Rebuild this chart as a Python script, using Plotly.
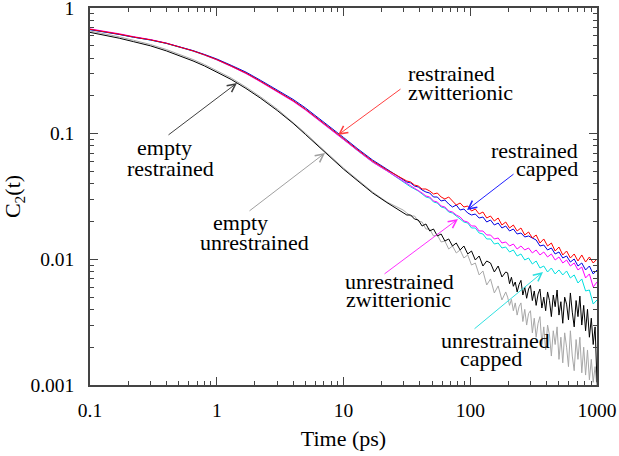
import plotly.graph_objects as go

# ---------------- data ----------------
time_ps = [0.1, 0.13, 0.17, 0.22, 0.3, 0.4, 0.5, 0.65, 0.8, 1, 1.3, 1.7, 2.2, 3, 4, 5, 6.5, 8, 10, 13, 17, 22,
           29.5, 31.6, 33.9, 36.3, 38.9, 41.7, 44.7, 47.9, 51.3, 55.0, 58.9, 63.1, 67.6, 72.4, 77.6, 83.2,
           89.1, 95.5, 102.3, 109.6, 117.5, 125.9, 134.9, 144.5, 154.9, 166.0, 177.8, 190.5, 204.2, 218.8,
           234.4, 251.2, 269.2, 288.4, 309.0, 331.1, 354.8, 380.2, 407.4, 436.5, 467.7, 501.2, 537.0, 575.4,
           616.6, 660.7, 707.9, 758.6, 812.8, 871.0, 933.3, 1000]

time_empty_ps = [0.1, 0.13, 0.17, 0.22, 0.3, 0.4, 0.5, 0.65, 0.8, 1, 1.3, 1.7, 2.2, 3, 4, 5, 6.5, 8, 10, 13, 17, 22,
                 29.5, 31.6, 33.9, 36.3, 38.9, 41.7, 44.7, 47.9, 51.3, 55.0, 58.9, 63.1, 67.6, 72.4, 77.6, 83.2,
                 89.1, 95.5, 102.3, 109.6, 117.5, 125.9, 134.9, 144.5, 154.9, 166.0, 177.8, 190.5,
                 197.2, 204.2, 211.3, 218.8, 226.5, 234.4, 242.7, 251.2, 260.0, 269.2, 278.6, 288.4, 298.5, 309.0,
                 319.9, 331.1, 342.8, 354.8, 367.3, 380.2, 393.6, 407.4, 421.7, 436.5, 451.9, 467.7, 484.2, 501.2,
                 518.8, 537.0, 555.9, 575.4, 595.7, 616.6, 638.3, 660.7, 683.9, 707.9, 732.8, 758.6, 785.2, 812.8,
                 841.4, 871.0, 901.6, 933.3, 966.1, 1000]

empty_unrestrained = [0.656, 0.624, 0.590, 0.554, 0.5125, 0.4676, 0.4305, 0.389, 0.355, 0.318, 0.2773, 0.235,
                      0.1975, 0.157, 0.1238, 0.1012, 0.0790, 0.0652, 0.0533, 0.0428, 0.0343, 0.0286,
                      0.02469, 0.02337, 0.02212, 0.02212, 0.02019, 0.01982, 0.01743, 0.01743, 0.01534, 0.01562,
                      0.01374, 0.01399, 0.01208, 0.01277, 0.01124, 0.01187, 0.01025, 0.01083, 0.00901, 0.00935,
                      0.00751, 0.00808, 0.00625, 0.00698, 0.0054, 0.00614, 0.00475, 0.0055,
                      0.0050, 0.0043, 0.0048, 0.0039, 0.0045, 0.0036, 0.0042, 0.0045, 0.0032, 0.0040, 0.0030, 0.0037,
                      0.0039, 0.0026, 0.0034, 0.0024, 0.0031, 0.0035, 0.0021, 0.0029, 0.0019, 0.0030, 0.0025, 0.0017,
                      0.0027, 0.0021, 0.0029, 0.0016, 0.0024, 0.0015, 0.0026, 0.0020, 0.0014, 0.0027, 0.0017, 0.0013,
                      0.0023, 0.0016, 0.0024, 0.00125, 0.0020, 0.0012, 0.0019, 0.0011, 0.0016, 0.00105, 0.0014,
                      0.00095]

empty_restrained = [0.640, 0.608, 0.575, 0.540, 0.500, 0.456, 0.420, 0.379, 0.346, 0.310, 0.270, 0.229,
                    0.1925, 0.153, 0.121, 0.0988, 0.0772, 0.0637, 0.0522, 0.0420, 0.0337, 0.0283,
                    0.0238, 0.02253, 0.02253, 0.02093, 0.02056, 0.01842, 0.01911, 0.01681, 0.01743, 0.01534,
                    0.01591, 0.01399, 0.01452, 0.01277, 0.01349, 0.01187, 0.01277, 0.01103, 0.01165, 0.00988,
                    0.01063, 0.00885, 0.0097, 0.00935, 0.00793, 0.00885, 0.00724, 0.00793,
                    0.0078, 0.0064, 0.0072, 0.0061, 0.0066, 0.0055, 0.0063, 0.0068, 0.0052, 0.0060, 0.0049, 0.0058,
                    0.0062, 0.0047, 0.0056, 0.0043, 0.0053, 0.0058, 0.0041, 0.0050, 0.0039, 0.0055, 0.0047, 0.0035,
                    0.0052, 0.0042, 0.0057, 0.0036, 0.0046, 0.0031, 0.0050, 0.0044, 0.0033, 0.0054, 0.0038, 0.0029,
                    0.0047, 0.0035, 0.0051, 0.0030, 0.0043, 0.0027, 0.0040, 0.0024, 0.0034, 0.0021, 0.0029,
                    0.00105]

unrestrained_capped = [0.675, 0.648, 0.617, 0.586, 0.556, 0.522, 0.492, 0.454, 0.422, 0.387, 0.344, 0.302,
                       0.261, 0.2172, 0.1824, 0.1558, 0.1273, 0.1078, 0.0902, 0.0729, 0.0595, 0.0507,
                       0.04125, 0.03977, 0.03764, 0.03628, 0.03497, 0.0331, 0.03133, 0.03076, 0.02859, 0.02807,
                       0.02609, 0.02561, 0.0238, 0.02337, 0.02212, 0.02093, 0.01982, 0.01946, 0.01776, 0.01776,
                       0.0162, 0.01591, 0.01452, 0.01452, 0.01324, 0.01349, 0.01231, 0.01253, 0.01144, 0.01187,
                       0.01063, 0.01103, 0.00988, 0.01025, 0.00918, 0.0097, 0.00853, 0.00885, 0.00793, 0.00853,
                       0.00765, 0.00823, 0.00751, 0.00808, 0.00711, 0.00751, 0.00648, 0.00698, 0.0056, 0.0057,
                       0.00441, 0.00475]

unrestrained_zwitterionic = [0.682, 0.655, 0.624, 0.592, 0.561, 0.526, 0.495, 0.456, 0.423, 0.387, 0.343, 0.301,
                             0.2595, 0.2158, 0.181, 0.1546, 0.1262, 0.1069, 0.0897, 0.0726, 0.0593, 0.0506,
                             0.04201, 0.0405, 0.03833, 0.03695, 0.03497, 0.03371, 0.03191, 0.03133, 0.02912, 0.02859,
                             0.02657, 0.02609, 0.02424, 0.0238, 0.02253, 0.02172, 0.02019, 0.01982, 0.01842, 0.01842,
                             0.01681, 0.01681, 0.01562, 0.01562, 0.01452, 0.01478, 0.01349, 0.01374, 0.01277, 0.01324,
                             0.01208, 0.01277, 0.01187, 0.01231, 0.01124, 0.01187, 0.01083, 0.01144, 0.01044, 0.01103,
                             0.00988, 0.01044, 0.00935, 0.00988, 0.00885, 0.00935, 0.00823, 0.00869, 0.00711, 0.00765,
                             0.00603, 0.0066]

restrained_capped = [0.672, 0.646, 0.616, 0.586, 0.557, 0.524, 0.495, 0.458, 0.427, 0.393, 0.350, 0.309,
                     0.267, 0.223, 0.1875, 0.1605, 0.1312, 0.1112, 0.0933, 0.0755, 0.0616, 0.0522,
                     0.04279, 0.04125, 0.0405, 0.03833, 0.03764, 0.03562, 0.03434, 0.03371, 0.03133, 0.03133,
                     0.02912, 0.02966, 0.02756, 0.02609, 0.02706, 0.02469, 0.02515, 0.02337, 0.02253, 0.02294,
                     0.02132, 0.02172, 0.01982, 0.02056, 0.01876, 0.01946, 0.01776, 0.01842, 0.01681, 0.01743,
                     0.01591, 0.0162, 0.01506, 0.01534, 0.01478, 0.01425, 0.01277, 0.013, 0.01187, 0.01231,
                     0.01103, 0.01144, 0.01025, 0.01063, 0.00952, 0.01006, 0.00885, 0.00935, 0.00823, 0.00885,
                     0.00765, 0.00823]

restrained_zwitterionic = [0.677, 0.650, 0.619, 0.588, 0.558, 0.524, 0.494, 0.456, 0.424, 0.389, 0.3455, 0.304,
                           0.2625, 0.2185, 0.1836, 0.157, 0.1284, 0.1089, 0.0915, 0.0741, 0.0605, 0.0515,
                           0.04357, 0.04201, 0.04125, 0.03904, 0.03833, 0.03628, 0.03628, 0.03497, 0.0331, 0.03371,
                           0.03133, 0.0302, 0.03133, 0.02912, 0.02706, 0.02807, 0.02609, 0.02657, 0.02424, 0.02515,
                           0.02294, 0.0238, 0.02132, 0.02212, 0.02019, 0.02132, 0.01876, 0.01982, 0.01776, 0.01876,
                           0.01681, 0.01776, 0.01562, 0.0165, 0.01478, 0.01562, 0.01349, 0.01452, 0.01277, 0.01349,
                           0.01165, 0.01253, 0.01083, 0.01165, 0.01025, 0.01103, 0.0097, 0.01083, 0.00952, 0.01044,
                           0.00935, 0.01006]

x_tick_vals = [0.1, 1, 10, 100, 1000]
x_tick_text = ["0.1", "1", "10", "100", "1000"]
y_tick_vals = [0.001, 0.01, 0.1, 1]
y_tick_text = ["0.001", "0.01", "0.1", "1"]

series = [
    ("empty unrestrained", time_empty_ps, empty_unrestrained, "#a8a8a8"),
    ("empty restrained", time_empty_ps, empty_restrained, "#000000"),
    ("unrestrained capped", time_ps, unrestrained_capped, "#00e0e0"),
    ("unrestrained zwitterionic", time_ps, unrestrained_zwitterionic, "#ff00ff"),
    ("restrained capped", time_ps, restrained_capped, "#0000e0"),
    ("restrained zwitterionic", time_ps, restrained_zwitterionic, "#ff0000"),
]

# ---------------- figure ----------------
FONT = "Liberation Serif"
AX = "#444444"
L, R, T, B = 90, 22, 8, 71
W, H = 619, 456
PW, PH = W - L - R, H - T - B

def dom(px, py):
    return (px - L) / PW, (H - B - py) / PH

fig = go.Figure()
for name, tt, vals, col in series:
    fig.add_trace(go.Scatter(x=tt, y=vals, mode="lines", name=name,
                             line=dict(color=col, width=1)))

# labels: (text, centre x px, centre y px)
labels = [
    ("empty", 164, 148), ("restrained", 170, 168),
    ("empty", 240, 222), ("unrestrained", 254, 242),
    ("restrained", 451, 73), ("zwitterionic", 460, 92),
    ("restrained", 534, 150), ("capped", 547, 168),
    ("unrestrained", 399, 281), ("zwitterionic", 398, 299),
    ("unrestrained", 495, 340), ("capped", 491, 358),
]
for txt, px, py in labels:
    dx, dy = dom(px, py)
    fig.add_annotation(text=txt, x=dx, y=dy, xref="x domain", yref="y domain",
                       showarrow=False, xanchor="center", yanchor="middle",
                       font=dict(family=FONT, size=22, color="black"))

# arrows: tip px, tail px, colour
arrows = [
    ((237, 83), (167, 136), "#404040"),
    ((325, 153), (248, 212), "#a0a0a0"),
    ((338, 135), (402, 88), "#ff4040"),
    ((467, 210), (515, 173), "#2020ff"),
    ((458, 219), (383, 275), "#ff30ff"),
    ((543, 272), (473, 330), "#30e0e0"),
]
for (tx, ty), (sx, sy), col in arrows:
    dx, dy = dom(tx, ty)
    fig.add_annotation(text="", x=dx, y=dy, xref="x domain", yref="y domain",
                       ax=sx - tx, ay=sy - ty, showarrow=True, arrowhead=5,
                       arrowsize=1.6, arrowwidth=1, arrowcolor=col)

axis_common = dict(
    type="log", tickmode="array", ticks="inside", ticklen=8, tickwidth=1, tickcolor=AX,
    showline=True, linecolor=AX, linewidth=1.5, mirror="allticks",
    showgrid=False, zeroline=False, automargin=False, ticklabeloverflow="allow",
    tickfont=dict(family=FONT, size=19.5, color="black"),
    minor=dict(ticks="inside", ticklen=4, tickwidth=1, tickcolor=AX, dtick="D1", showgrid=False),
)

fig.update_layout(
    width=W, height=H, margin=dict(l=L, r=R, t=T, b=B),
    paper_bgcolor="white", plot_bgcolor="white", showlegend=False,
    font=dict(family=FONT, color="black"),
    xaxis=dict(range=[-1, 3], tickvals=x_tick_vals, ticktext=x_tick_text,
               ticklabelstandoff=7,
               title=dict(text="Time (ps)", font=dict(family=FONT, size=22), standoff=10),
               **axis_common),
    yaxis=dict(range=[-3, 0], tickvals=y_tick_vals, ticktext=y_tick_text,
               ticklabelstandoff=10,
               title=dict(text="C<sub>2</sub>(t)", font=dict(family=FONT, size=22), standoff=15),
               **axis_common),
)

fig.write_html("out.html", config={"displayModeBar": False},
               post_script="document.body.style.margin='0';document.body.style.overflow='hidden';")
